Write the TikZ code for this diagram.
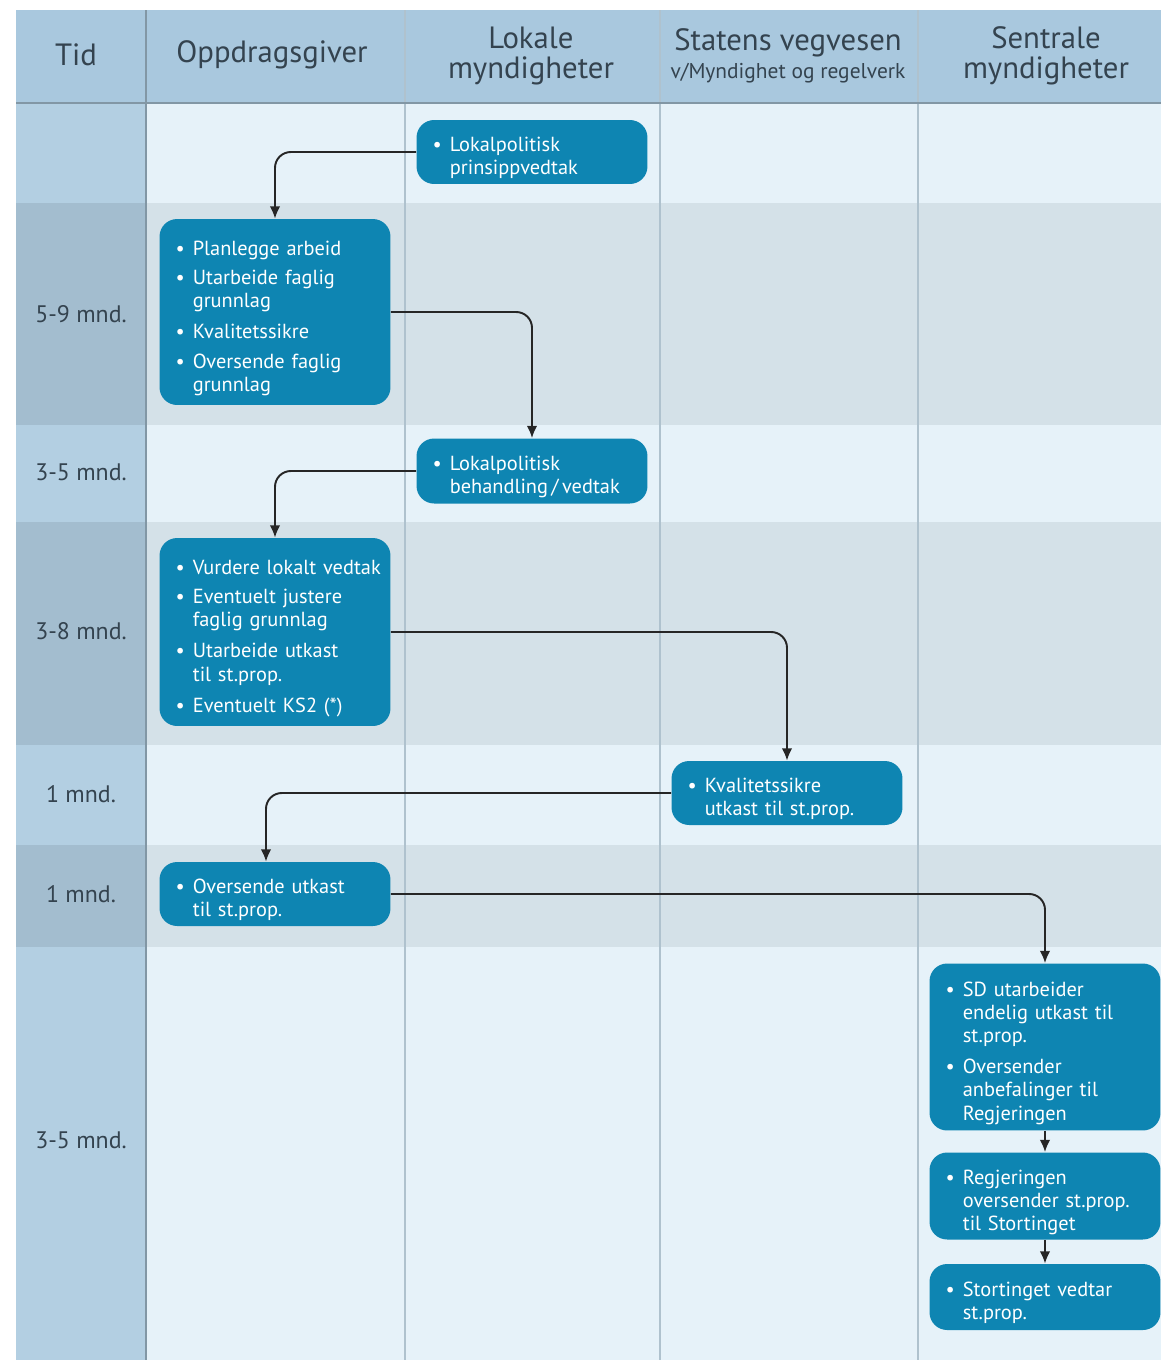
\documentclass[tikz,border=0pt]{standalone}
\usepackage{fontspec}
\setmainfont{PT Sans}
\usetikzlibrary{arrows.meta}

\definecolor{hodebg}{HTML}{A9C8DE}
\definecolor{tidlys}{HTML}{B3CFE2}
\definecolor{tidmork}{HTML}{A3BDCF}
\definecolor{radlys}{HTML}{E6F2F9}
\definecolor{radmork}{HTML}{D4E1E8}
\definecolor{boksbla}{HTML}{0E85B2}
\definecolor{skrift}{HTML}{34434F}
\definecolor{strek}{HTML}{AFC2CE}

% punkt i en boks, med hengende innrykk
\newcommand{\pkt}[1]{\par\noindent\makebox[0.85em][l]{\textbullet}%
    \begin{tabular}[t]{@{}l@{}}#1\end{tabular}\par}

\begin{document}
\begin{tikzpicture}[x=0.02cm,y=-0.02cm,
    tiltak/.style={fill=boksbla,text=white,rounded corners=10pt,
        text width=3.98cm,inner xsep=0.32cm,inner ysep=0.5pt,align=left,
        font=\fontsize{11.6}{13.2}\selectfont,
        execute at begin node=\setlength{\parskip}{3.5pt}},
    hode/.style={text=skrift,align=center,font=\fontsize{17.5}{17}\selectfont},
    tid/.style={text=skrift,font=\fontsize{13.6}{15}\selectfont},
    pil/.style={->,>={Latex[length=7pt,width=6pt]},draw=black!85,
        line width=1.1pt,rounded corners=9pt}]

    \useasboundingbox (0,0) rectangle (1161,1363);

    % Bakgrunn: hode og rader
    \fill[hodebg] (16,10) rectangle (1161,103);
    \fill[tidlys] (16,103) rectangle (146,203);
    \fill[tidmork] (16,203) rectangle (146,425);
    \fill[tidlys] (16,425) rectangle (146,522);
    \fill[tidmork] (16,522) rectangle (146,745);
    \fill[tidlys] (16,745) rectangle (146,845);
    \fill[tidmork] (16,845) rectangle (146,947);
    \fill[tidlys] (16,947) rectangle (146,1360);
    \fill[radlys] (146,103) rectangle (1161,203);
    \fill[radmork] (146,203) rectangle (1161,425);
    \fill[radlys] (146,425) rectangle (1161,522);
    \fill[radmork] (146,522) rectangle (1161,745);
    \fill[radlys] (146,745) rectangle (1161,845);
    \fill[radmork] (146,845) rectangle (1161,947);
    \fill[radlys] (146,947) rectangle (1161,1360);

    % Kolonnestreker
    \draw[strek,line width=0.6pt] (405,10) -- (405,1360)
        (660,10) -- (660,1360) (918,10) -- (918,1360);
    \draw[tidmork!80!black,line width=0.8pt] (146,10) -- (146,1360);
    \draw[tidmork!80!black,line width=0.8pt] (16,103) -- (1161,103);

    % Overskrifter
    \node[hode] (tidhode) at (76,55) {Tid};
    \node[hode] (oppdrag) at (272,55) {Oppdragsgiver};
    \node[hode] (lokale) at (531,56) {Lokale\\myndigheter};
    \node[hode,align=center] (statens) at (788,56)
        {Statens vegvesen\\[-1pt]{\fontsize{12.2}{13}\selectfont v/Myndighet og regelverk}};
    \node[hode] (sentrale) at (1046,56) {Sentrale\\myndigheter};

    % Tidsrom
    \node[tid] (t1) at (81,314) {5-9 mnd.};
    \node[tid] (t2) at (81,472) {3-5 mnd.};
    \node[tid] (t3) at (81,631) {3-8 mnd.};
    \node[tid] (t4) at (81,794) {1 mnd.};
    \node[tid] (t5) at (81,894) {1 mnd.};
    \node[tid] (t6) at (81,1140) {3-5 mnd.};

    % Bokser
    \node[tiltak,minimum height=1.28cm] (prinsipp) at (532,152)
        {\pkt{Lokalpolitisk\\prinsippvedtak}};
    \node[tiltak,minimum height=3.72cm] (planlegge) at (275,312)
        {\pkt{Planlegge arbeid}\pkt{Utarbeide faglig\\grunnlag}%
         \pkt{Kvalitetssikre}\pkt{Oversende faglig\\grunnlag}};
    \node[tiltak,minimum height=1.3cm] (behandling) at (532,471)
        {\pkt{Lokalpolitisk\\behandling\,/\,vedtak}};
    \node[tiltak,minimum height=3.76cm] (vurdere) at (275,632)
        {\pkt{Vurdere lokalt vedtak}\pkt{Eventuelt justere\\faglig grunnlag}%
         \pkt{Utarbeide utkast\\til st.prop.}\pkt{Eventuelt KS2 (*)}};
    \node[tiltak,minimum height=1.28cm] (kvalitet) at (787,793)
        {\pkt{Kvalitetssikre\\utkast til st.prop.}};
    \node[tiltak,minimum height=1.28cm] (oversende) at (275,894)
        {\pkt{Oversende utkast\\til st.prop.}};
    \node[tiltak,minimum height=3.34cm] (sd) at (1045,1047)
        {\pkt{SD utarbeider\\endelig utkast til\\st.prop.}%
         \pkt{Oversender\\anbefalinger til\\Regjeringen}};
    \node[tiltak,minimum height=1.74cm] (regjering) at (1045,1196)
        {\pkt{Regjeringen\\oversender st.prop.\\til Stortinget}};
    \node[tiltak,minimum height=1.32cm] (storting) at (1045,1297)
        {\pkt{Stortinget vedtar\\st.prop.}};

    % Piler
    \draw[pil] (prinsipp.west) -| (planlegge.north);
    \draw[pil] (planlegge.east) -| (behandling.north);
    \draw[pil] (behandling.west) -| (vurdere.north);
    \draw[pil] (vurdere.east) -| (kvalitet.north);
    \draw[pil] (kvalitet.west) -| ([xshift=-0.18cm]oversende.north);
    \draw[pil] (oversende.east) -| (sd.north);
    \draw[pil] (sd) -- (regjering);
    \draw[pil] (regjering) -- (storting);

\end{tikzpicture}
\end{document}
